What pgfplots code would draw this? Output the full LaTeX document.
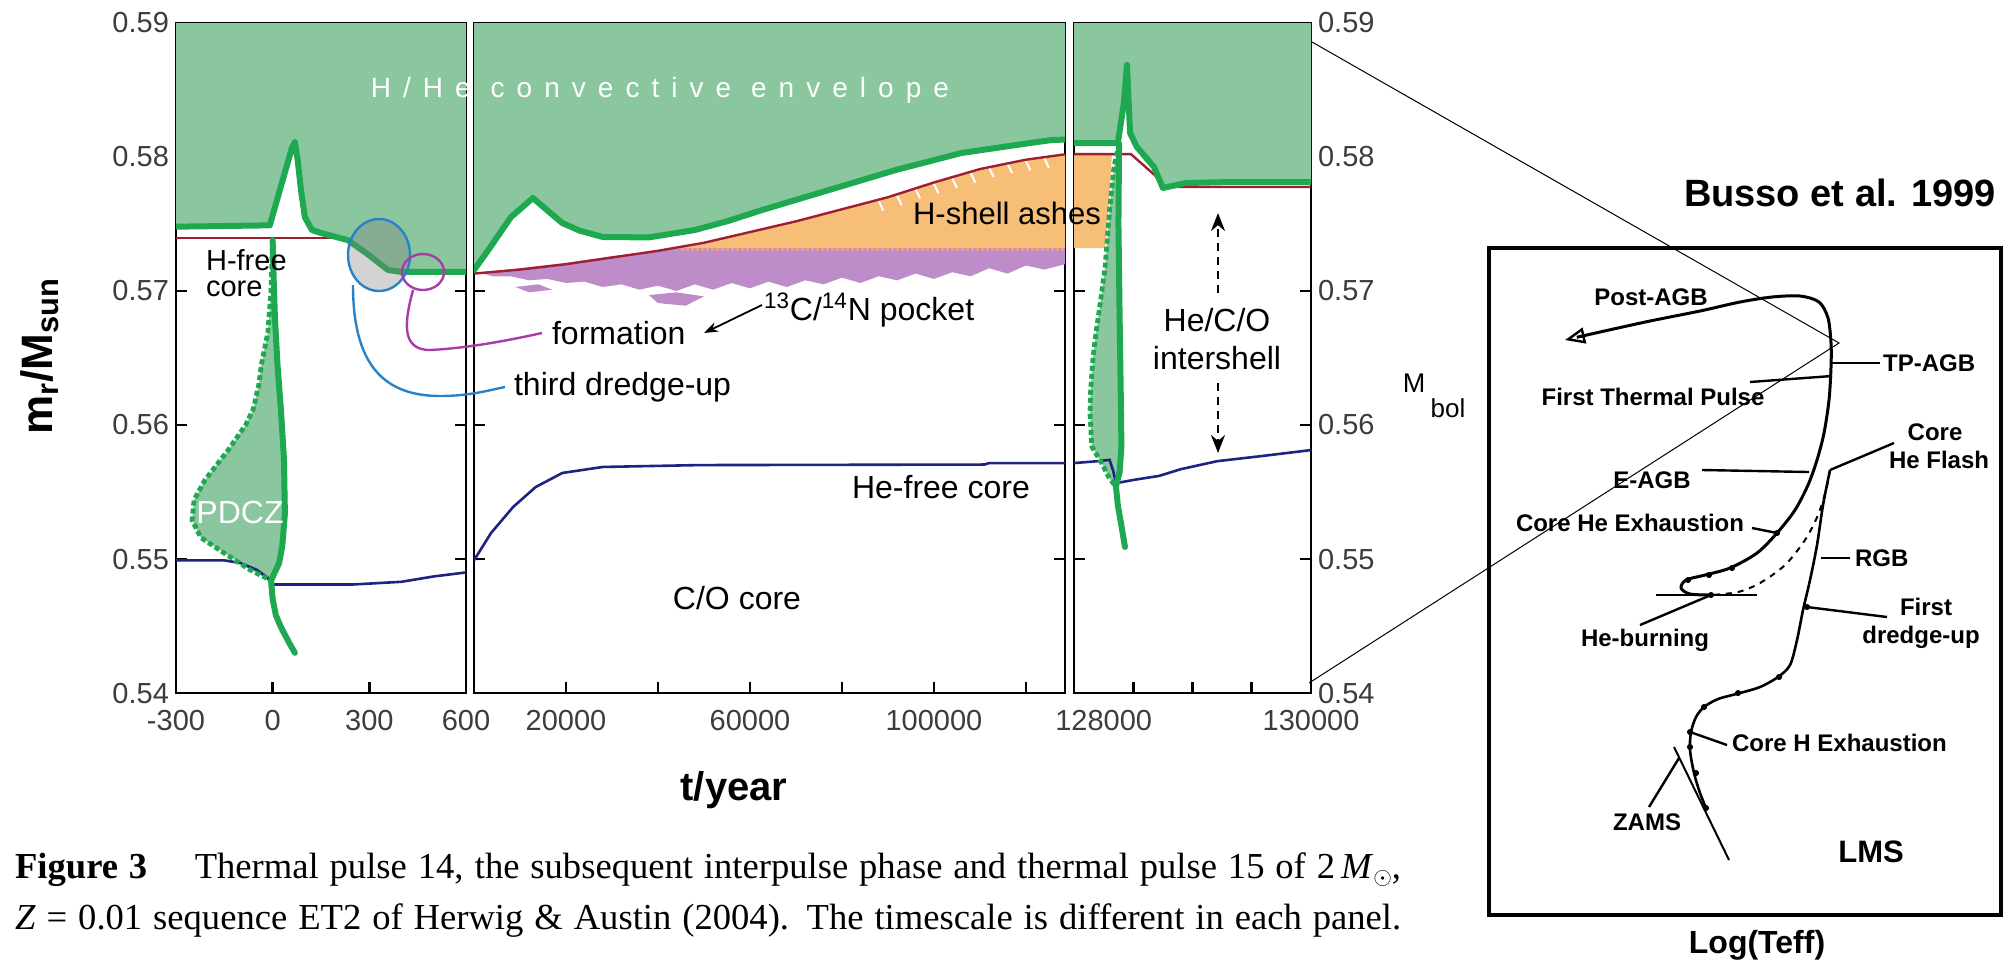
\documentclass[border=0pt]{standalone}
\usepackage{fontspec}
\setmainfont{Liberation Sans}
\newfontfamily\capfont{Liberation Serif}
\newfontfamily\spacedfont{Liberation Sans}[LetterSpace=43]
\usepackage{pgfplots}
\pgfplotsset{compat=1.18}
\usetikzlibrary{arrows.meta}

\definecolor{envfill}{RGB}{138,198,158}
\definecolor{bdgreen}{RGB}{30,168,80}
\definecolor{hred}{RGB}{160,30,50}
\definecolor{navy}{RGB}{30,35,130}
\definecolor{tdblue}{RGB}{40,130,200}
\definecolor{formmag}{RGB}{170,60,170}
\definecolor{ashorange}{RGB}{247,190,120}
\definecolor{pocket}{RGB}{190,140,200}
\definecolor{pinkstripe}{RGB}{235,160,135}
\definecolor{ticktext}{RGB}{60,60,60}

\newcommand\fs[1]{\fontsize{#1pt}{#1pt}\selectfont}

\pgfplotsset{
  panel/.style={
    scale only axis, height=335pt, ymin=0.54, ymax=0.59,
    axis line style={line width=1.3pt},
    every tick/.style={line width=1.3pt, black},
    major tick length=5.5pt, tick align=inside,
    ytick={0.54,0.55,0.56,0.57,0.58,0.59},
    yticklabels={},
    tick label style={font=\fs{14.5}, text=ticktext},
    /pgf/number format/assume math mode=true,
    xticklabel style={yshift=-5pt},
    scaled x ticks=false,
    unbounded coords=jump,
  },
  env/.style={fill=envfill, draw=none},
  bnd/.style={bdgreen, line width=3pt, line join=round, line cap=round},
  dotbnd/.style={bdgreen, line width=2.4pt, dash pattern=on 2.5pt off 1.5pt},
  core/.style={navy, line width=1.3pt},
  hfree/.style={hred, line width=1.2pt},
}

\begin{document}
\begin{tikzpicture}
\path[use as bounding box] (0,0) rectangle (1008pt,-485pt);

% ---------------- thermal pulse 14 ----------------
\begin{axis}[panel, at={(88pt,-346.5pt)}, anchor=south west, width=145pt,
  xmin=-300, xmax=600, xtick={-300,0,300,600}, xticklabels={-300,0,300,600},
  yticklabels={0.54,0.55,0.56,0.57,0.58,0.59}]
  % convective envelope
  \addplot[env] coordinates {(-300,0.59) (-300,0.5748) (-9,0.5749) (60,0.5807) (69,0.5811)
    (78,0.5797) (88,0.5775) (100,0.5755) (122,0.57455) (150,0.57433) (233,0.5738)
    (290,0.57284) (358,0.57157) (400,0.57142) (600,0.57142) (600,0.59)} -- cycle;
  % pulse driven convection zone
  \addplot[env] coordinates {(0,0.5738) (-5,0.5700) (-15,0.5669) (-35,0.5645) (-43,0.5630)
    (-60,0.5612) (-84,0.5600) (-139,0.5581) (-210,0.5559) (-244,0.5544) (-250,0.5529)
    (-223,0.5516) (-154,0.5505) (-71,0.5492) (-5,0.5484) (20,0.5497) (30,0.5510)
    (38,0.5534) (35,0.5575) (26,0.5610) (15,0.5645) (7,0.5680) (3,0.5710) (0,0.5738)} -- cycle;
  % H-free core
  \addplot[hfree] coordinates {(-300,0.57396) (225,0.57396)};
  % He-free core
  \addplot[core] coordinates {(-300,0.5499) (-150,0.5499) (-100,0.5497) (-50,0.5492)
    (-15,0.5486) (-5,0.5481) (100,0.5481) (250,0.5481) (400,0.5483) (500,0.5487) (600,0.5490)};
  % envelope boundary
  \addplot[bnd] coordinates {(-300,0.5748) (-9,0.5749) (60,0.5807) (69,0.5811)
    (78,0.5797) (88,0.5775) (100,0.5755) (122,0.57455) (150,0.57433) (233,0.5738)
    (290,0.57284) (358,0.57157) (400,0.57142) (600,0.57142)};
  % PDCZ boundaries
  \addplot[bnd] coordinates {(-5,0.5484) (20,0.5497) (30,0.5510) (38,0.5534) (35,0.5575)
    (26,0.5610) (15,0.5645) (7,0.5680) (3,0.5710) (0,0.5738)};
  \addplot[dotbnd] coordinates {(0,0.5738) (-5,0.5700) (-15,0.5669) (-35,0.5645) (-43,0.5630)
    (-60,0.5612) (-84,0.5600) (-139,0.5581) (-210,0.5559) (-244,0.5544) (-250,0.5529)
    (-223,0.5516) (-154,0.5505) (-71,0.5492) (-5,0.5484)};
  \addplot[bnd] coordinates {(-5,0.5484) (0,0.5470) (10,0.5458) (26,0.5449) (50,0.5438) (69,0.5430)};
\end{axis}

% ---------------- interpulse phase ----------------
\begin{axis}[panel, at={(237pt,-346.5pt)}, anchor=south west, width=295.5pt,
  xmin=0, xmax=128500, xtick={20000,40000,60000,80000,100000,120000},
  xticklabels={20000,,60000,,100000,}]
  \addplot[env] coordinates {(0,0.59) (0,0.57157) (3000,0.5730) (8000,0.5755) (12800,0.57694)
    (16000,0.5760) (19200,0.57507) (23000,0.5745) (28000,0.57403) (38000,0.5740)
    (48000,0.57455) (55000,0.5752) (62600,0.57604) (77200,0.57754) (91700,0.57903)
    (106000,0.58030) (118000,0.5809) (125600,0.58127) (128500,0.5813) (128500,0.59)} -- cycle;
  % H-shell ashes
  \addplot[fill=ashorange, draw=none] coordinates {(44000,0.5732) (50000,0.5736) (60000,0.5744)
    (70000,0.5752) (80000,0.5761) (90000,0.5770) (100000,0.5781) (110000,0.5791)
    (120000,0.5798) (128500,0.5802) (128500,0.5732)} -- cycle;
  % 13C/14N pocket
  \addplot[fill=pocket, draw=none] coordinates {(2000,0.5714) (10000,0.5717) (20000,0.5721)
    (30000,0.5726) (40000,0.5730) (45000,0.5732) (128500,0.5732) (128500,0.5720)
    (124000,0.5716) (120000,0.5719) (116000,0.5713) (112000,0.5717) (108000,0.5711)
    (104000,0.5714) (100000,0.5709) (96000,0.5713) (92000,0.5708) (88000,0.5711)
    (84000,0.5706) (80000,0.5710) (76000,0.5705) (72000,0.5708) (68000,0.5703)
    (64000,0.5707) (60000,0.5702) (56000,0.5706) (52000,0.5701) (48000,0.5705)
    (44000,0.5700) (40000,0.5704) (36000,0.5701) (32000,0.5705) (28000,0.5703)
    (24000,0.5707) (20000,0.5706) (16000,0.5709) (12000,0.5708) (8000,0.5711)
    (4000,0.5711) (2000,0.5713)} -- cycle;
  \addplot[fill=pocket, draw=none] coordinates {(38000,0.5697) (44000,0.5699) (50000,0.5696)
    (46000,0.5689) (40000,0.5691)} -- cycle;
  \addplot[fill=pocket, draw=none] coordinates {(9000,0.5703) (14000,0.5705) (17000,0.5701)
    (12000,0.5699)} -- cycle;
  % speckled stripe on top of the pocket
  \addplot[pinkstripe, line width=1.5pt, dash pattern=on 1.5pt off 1pt] coordinates {(45000,0.5731) (128500,0.5731)};
  % streaks below the shell
  \addplot[white, line width=1pt] coordinates {
    (88000,0.5767) (89000,0.5760) (nan,nan) (92000,0.5771) (93000,0.5764) (nan,nan)
    (96000,0.5776) (97000,0.5769) (nan,nan) (100000,0.5780) (101000,0.5773) (nan,nan)
    (104000,0.5784) (105000,0.5777) (nan,nan) (108000,0.5788) (109000,0.5781) (nan,nan)
    (112000,0.5792) (113000,0.5785) (nan,nan) (116000,0.5795) (117000,0.5788) (nan,nan)
    (120000,0.5797) (121000,0.5790) (nan,nan) (124000,0.5799) (125000,0.5792)};
  \addplot[hfree] coordinates {(0,0.5713) (10000,0.5716) (20000,0.5720) (30000,0.5725)
    (40000,0.5730) (50000,0.5736) (60000,0.5744) (70000,0.5752) (80000,0.5761)
    (90000,0.5770) (100000,0.5781) (110000,0.5791) (120000,0.5798) (128500,0.5802)};
  \addplot[core] coordinates {(0,0.5499) (3700,0.55194) (8500,0.55388) (13400,0.55537)
    (19200,0.55642) (28000,0.55687) (49100,0.55701) (111000,0.55705) (112000,0.55716) (128500,0.55716)};
  \addplot[bnd] coordinates {(0,0.57157) (3000,0.5730) (8000,0.5755) (12800,0.57694)
    (16000,0.5760) (19200,0.57507) (23000,0.5745) (28000,0.57403) (38000,0.5740)
    (48000,0.57455) (55000,0.5752) (62600,0.57604) (77200,0.57754) (91700,0.57903)
    (106000,0.58030) (118000,0.5809) (125600,0.58127) (128500,0.5813)};
\end{axis}

% ---------------- thermal pulse 15 ----------------
\begin{axis}[panel, at={(537pt,-346.5pt)}, anchor=south west, width=118.5pt,
  xmin=128000, xmax=130000, xtick={128500,129000,129500}, xticklabels={},
  extra x ticks={128250,130000}, extra x tick labels={128000,130000},
  extra x tick style={major tick length=0pt},
  yticklabel pos=right, yticklabels={0.54,0.55,0.56,0.57,0.58,0.59}]
  \addplot[env] coordinates {(128000,0.59) (128000,0.58104) (128370,0.58104) (128420,0.5840)
    (128447,0.58687) (128473,0.5818) (128530,0.58075) (128675,0.57925) (128750,0.57769)
    (128945,0.57806) (129316,0.57813) (130000,0.57813) (130000,0.59)} -- cycle;
  \addplot[fill=ashorange, draw=none] coordinates {(128000,0.5802) (128320,0.5802)
    (128290,0.5760) (128262,0.5732) (128000,0.5732)} -- cycle;
  \addplot[env] coordinates {(128380,0.5810) (128338,0.5793) (128300,0.5760) (128262,0.5718)
    (128220,0.5690) (128186,0.5669) (128160,0.5650) (128140,0.5625) (128135,0.5609)
    (128150,0.5584) (128230,0.5572) (128300,0.5560) (128354,0.5554) (128385,0.5565)
    (128400,0.5584) (128395,0.5620) (128385,0.5680) (128375,0.5750) (128380,0.5810)} -- cycle;
  \addplot[hfree] coordinates {(128000,0.58022) (128480,0.58022) (128700,0.5785)
    (128760,0.57776) (130000,0.57776)};
  \addplot[core] coordinates {(128000,0.55716) (128200,0.5573) (128300,0.5574) (128330,0.5566)
    (128354,0.55567) (128410,0.55575) (128500,0.5559) (128717,0.5562) (128900,0.5567)
    (129207,0.5573) (129600,0.5577) (130000,0.55813)};
  \addplot[bnd] coordinates {(128000,0.58104) (128370,0.58104) (128420,0.5840)
    (128447,0.58687) (128473,0.5818) (128530,0.58075) (128675,0.57925) (128750,0.57769)
    (128945,0.57806) (129316,0.57813) (130000,0.57813)};
  \addplot[bnd] coordinates {(128354,0.5554) (128385,0.5565) (128400,0.5584) (128395,0.5620)
    (128385,0.5680) (128375,0.5750) (128380,0.5810)};
  \addplot[dotbnd] coordinates {(128380,0.5810) (128338,0.5793) (128300,0.5760) (128262,0.5718)
    (128220,0.5690) (128186,0.5669) (128160,0.5650) (128140,0.5625) (128135,0.5609)
    (128150,0.5584) (128230,0.5572) (128300,0.5560) (128354,0.5554)};
  \addplot[bnd] coordinates {(128354,0.5554) (128370,0.5540) (128400,0.5525) (128430,0.5509)};
\end{axis}

% ---------------- HR diagram ----------------
\begin{axis}[scale only axis, at={(744.5pt,-457.5pt)}, anchor=south west,
  width=256pt, height=333.5pt, xmin=1489, xmax=2001, ymin=248, ymax=915, y dir=reverse,
  xtick=\empty, ytick=\empty, axis line style={line width=1.7pt}, clip=false]
  % ZAMS
  \addplot[black, line width=1pt] coordinates {(1674,747) (1729,860)};
  % main sequence and red giant branch
  \addplot[black, line width=1.3pt, smooth, tension=0.5] coordinates {(1706,808) (1700,793)
    (1694,773) (1690,750) (1691,732) (1696,717) (1704,707) (1718,699) (1740,693) (1760,687)
    (1778,677) (1790,665) (1797,640) (1803,610) (1810,580) (1817,545) (1823,505) (1830,470)};
  % helium flash to the horizontal branch
  \addplot[black, line width=1pt, dashed, smooth, tension=0.5] coordinates {(1830,470)
    (1826,490) (1818,515) (1805,540) (1785,565) (1760,583) (1738,592) (1711,595)};
  % core He burning, AGB and post-AGB
  \addplot[black, line width=1.5pt, smooth, tension=0.5,
    -{Triangle[open, length=10pt, width=8pt, line width=1.2pt]}] coordinates {(1711,595)
    (1690,594) (1681,588) (1686,580) (1705,575) (1730,568) (1757,553) (1777,533) (1795,510)
    (1808,485) (1817,460) (1824,433) (1829,400) (1831,367) (1831,343) (1828,318) (1819,302)
    (1800,296) (1772,297) (1740,302) (1700,311) (1650,321) (1600,332) (1565,340)};
  % model time steps along the track
  \addplot[only marks, mark=*, mark size=1.3pt, black] coordinates {(1706,808) (1696,773)
    (1690,747) (1690,732) (1704,707) (1738,693) (1779,677) (1807,607) (1777,533)
    (1732,568) (1709,575) (1688,580) (1711,595)};
\end{axis}

\begin{scope}[x=0.5pt, y=-0.5pt]
  % third dredge-up and pocket formation markers
  \draw[tdblue, line width=1.2pt, fill=gray, fill opacity=0.35] (379,255) ellipse [x radius=31, y radius=36];
  \draw[formmag, line width=1.2pt] (423,272) ellipse [x radius=21, y radius=18];
  \draw[tdblue, line width=1.2pt] (353,285) .. controls (353,360) and (380,396) .. (440,396)
    .. controls (470,396) and (490,390) .. (505,387);
  \draw[formmag, line width=1.2pt] (413,290) .. controls (405,320) and (400,350) .. (430,350)
    .. controls (470,348) and (510,340) .. (542,333);
  \draw[black, line width=0.9pt, -{Stealth[length=7pt, width=5pt]}] (762,305) -- (704,333);
  % intershell arrows
  \draw[black, line width=1.3pt, dash pattern=on 4pt off 3pt, -{Stealth[length=9pt, width=7pt]}] (1218,293) -- (1218,213);
  \draw[black, line width=1.3pt, dash pattern=on 4pt off 3pt, -{Stealth[length=9pt, width=7pt]}] (1218,383) -- (1218,453);

  % labels in the panels
  \node[text=white, font=\spacedfont\fs{14}] at (660,90) {H/He convective envelope};
  \node[anchor=west, font=\fs{14.5}] at (199,260) {H-free};
  \node[anchor=west, font=\fs{14.5}] at (199,289) {core};
  \node[text=white, font=\fs{16}] at (240,512) {PDCZ};
  \node[anchor=west, font=\fs{16}] at (545,333) {formation};
  \node[anchor=west, font=\fs{16}] at (507,387) {third dredge-up};
  \node[anchor=west, font=\fs{16}] at (757,310) {\textsuperscript{13}C/\textsuperscript{14}N pocket};
  \node[font=\fs{15.5}] at (1007,213) {H-shell ashes};
  \node[font=\fs{16}] at (941,487) {He-free core};
  \node[font=\fs{16}] at (737,598) {C/O core};
  \node[font=\fs{16}] at (1217,320) {He/C/O};
  \node[font=\fs{16}] at (1217,358) {intershell};

  % axis titles
  \node[font=\bfseries\fs{20}] at (734,790) {t/year};
  \node[rotate=90, font=\bfseries\fs{22}] at (40,356) {m\textsubscript{r}/M\textsubscript{sun}};

  % caption
  \node[anchor=west, font=\capfont\fs{18.3}] at (8,870) {\makebox[693pt][s]{\textbf{Figure 3}\hspace{1.3em}Thermal pulse 14, the subsequent interpulse phase and thermal pulse 15 of 2\,\textit{M}\raisebox{-0.35ex}{\fs{12}$\odot$},}};
  \node[anchor=west, font=\capfont\fs{18.3}] at (8,921) {\makebox[693pt][s]{\textit{Z} = 0.01 sequence ET2 of Herwig \& Austin (2004). The timescale is different in each panel.}};

  % HR diagram annotations
  \node[font=\bfseries\fs{19}] at (1840,193) {Busso et al. 1999};
  \node[font=\fs{13.5}] at (1414,383) {M};
  \node[font=\fs{13}] at (1448,408) {bol};
  \node[font=\bfseries\fs{16}] at (1757,945) {Log(Teff)};
  \begin{scope}[line width=1.2pt]
    \draw (1656,595) -- (1757,595);
    \draw (1832,363) -- (1880,363);
    \draw (1750,382) -- (1832,376);
    \draw (1830,470) -- (1894,443);
    \draw (1702,470) -- (1809,472);
    \draw (1752,528) -- (1777,533);
    \draw (1821,558) -- (1850,558);
    \draw (1711,595) -- (1640,625);
    \draw (1807,607) -- (1887,617);
    \draw (1690,732) -- (1727,745);
    \draw (1679,758) -- (1649,807);
  \end{scope}
  \begin{scope}[font=\bfseries\fs{12}]
    \node at (1651,297) {Post-AGB};
    \node[anchor=west] at (1876,363) {TP-AGB};
    \node at (1653,397) {First Thermal Pulse};
    \node at (1935,432) {Core};
    \node at (1939,460) {He Flash};
    \node at (1652,480) {E-AGB};
    \node at (1630,523) {Core He Exhaustion};
    \node[anchor=west] at (1848,558) {RGB};
    \node at (1926,607) {First};
    \node at (1921,637) {dredge-up};
    \node at (1645,640) {He-burning};
    \node[anchor=west] at (1725,743) {Core H Exhaustion};
    \node at (1647,822) {ZAMS};
  \end{scope}
  \node[font=\bfseries\fs{15.5}] at (1871,852) {LMS};

  % zoom lines from the pulse panels to the TP-AGB
  \draw[black, line width=0.5pt] (1312,42) -- (1839,343) -- (1309,683);
\end{scope}
\end{tikzpicture}
\end{document}
